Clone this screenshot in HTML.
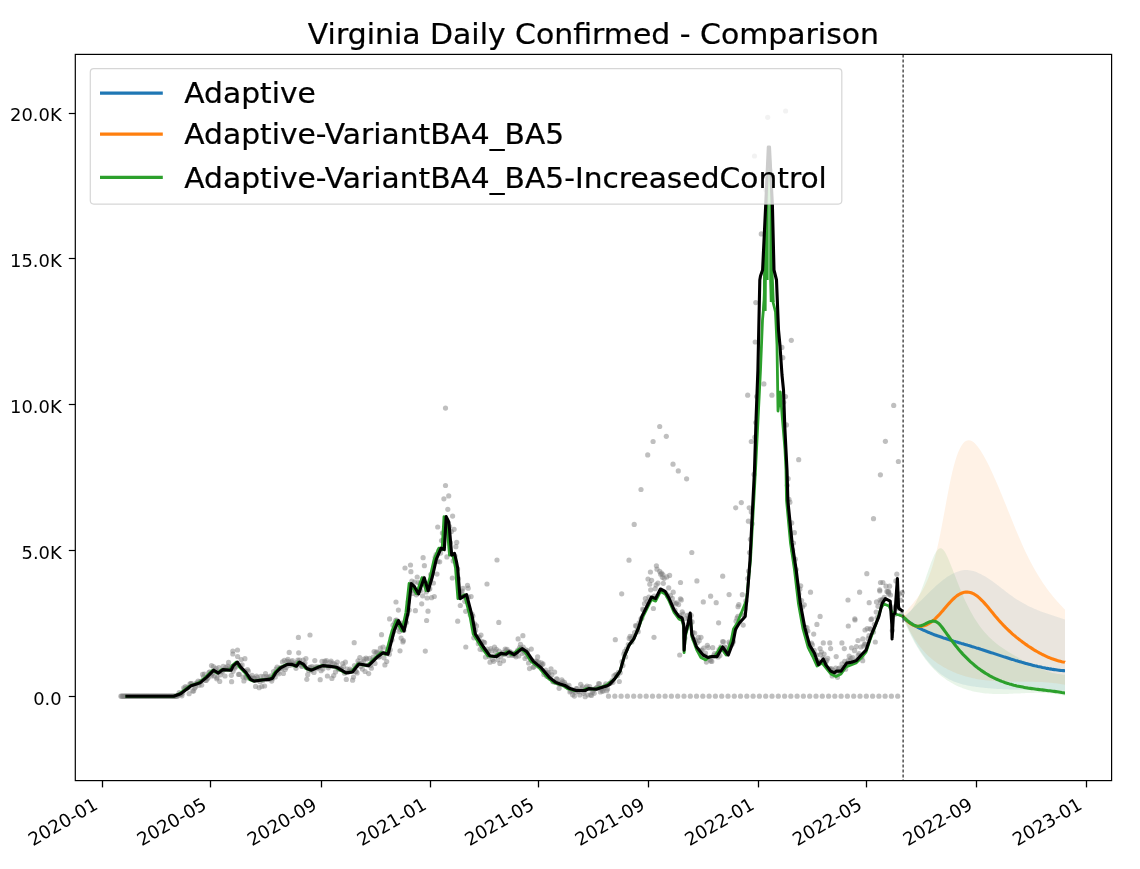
<!DOCTYPE html>
<html><head><meta charset="utf-8"><title>Virginia Daily Confirmed - Comparison</title>
<style>html,body{margin:0;padding:0;background:#fff;overflow:hidden}svg{display:block;will-change:transform}text{font-family:"DejaVu Sans","Liberation Sans",sans-serif;fill:#000;stroke:#000;stroke-width:0.25px}text.t{stroke-width:0}</style></head><body>
<svg width="1140" height="869" viewBox="0 0 1140 869">
<rect x="0" y="0" width="1140" height="869" fill="#fff"/>
<defs><clipPath id="ax"><rect x="75.3" y="54.4" width="1036.3" height="726.2"/></clipPath></defs>
<g clip-path="url(#ax)">
<path d="M902.8 617.2 L904.3 616 L905.8 614.8 L907.3 613.5 L908.8 612.1 L910.3 610.8 L911.8 609.4 L913.3 608 L914.8 606.5 L916.3 605.1 L917.8 603.6 L919.3 602.1 L920.8 600.7 L922.3 599.2 L923.8 597.7 L925.3 596.2 L926.8 594.7 L928.3 593.2 L929.8 591.8 L931.3 590.3 L932.8 588.9 L934.3 587.5 L935.8 586.1 L937.3 584.8 L938.8 583.5 L940.3 582.2 L941.8 581 L943.3 579.8 L944.8 578.7 L946.3 577.6 L947.8 576.6 L949.3 575.7 L950.8 574.8 L952.3 573.9 L953.8 573.2 L955.3 572.5 L956.8 571.9 L958.3 571.4 L959.8 570.9 L961.3 570.6 L962.8 570.3 L964.3 570.1 L965.8 570.1 L967.3 570.1 L968.8 570.2 L970.3 570.4 L971.8 570.7 L973.3 571.1 L974.8 571.6 L976.3 572.1 L977.8 572.7 L979.3 573.4 L980.8 574.1 L982.3 574.9 L983.8 575.7 L985.3 576.6 L986.8 577.5 L988.3 578.5 L989.8 579.5 L991.3 580.6 L992.8 581.6 L994.3 582.7 L995.8 583.8 L997.3 585 L998.8 586.1 L1000.3 587.3 L1001.8 588.4 L1003.3 589.6 L1004.8 590.8 L1006.3 591.9 L1007.8 593 L1009.3 594.2 L1010.8 595.3 L1012.3 596.3 L1013.8 597.4 L1015.3 598.4 L1016.8 599.4 L1018.3 600.3 L1019.8 601.3 L1021.3 602.1 L1022.8 603 L1024.3 603.8 L1025.8 604.6 L1027.3 605.4 L1028.8 606.2 L1030.3 606.9 L1031.8 607.6 L1033.3 608.3 L1034.8 608.9 L1036.3 609.6 L1037.8 610.2 L1039.3 610.8 L1040.8 611.4 L1042.3 611.9 L1043.8 612.5 L1045.3 613 L1046.8 613.6 L1048.3 614.1 L1049.8 614.6 L1051.3 615.1 L1052.8 615.6 L1054.3 616.1 L1055.8 616.6 L1057.3 617.1 L1058.8 617.6 L1060.3 618 L1061.8 618.5 L1063.3 619 L1064.8 619.5 L1065 619.5 L1065 691.2 L1064.8 691.1 L1063.3 691 L1061.8 690.9 L1060.3 690.8 L1058.8 690.7 L1057.3 690.6 L1055.8 690.5 L1054.3 690.4 L1052.8 690.4 L1051.3 690.3 L1049.8 690.2 L1048.3 690.2 L1046.8 690.1 L1045.3 690.1 L1043.8 690 L1042.3 690 L1040.8 689.9 L1039.3 689.9 L1037.8 689.9 L1036.3 689.8 L1034.8 689.8 L1033.3 689.8 L1031.8 689.8 L1030.3 689.7 L1028.8 689.7 L1027.3 689.7 L1025.8 689.7 L1024.3 689.7 L1022.8 689.6 L1021.3 689.6 L1019.8 689.6 L1018.3 689.6 L1016.8 689.5 L1015.3 689.5 L1013.8 689.5 L1012.3 689.4 L1010.8 689.4 L1009.3 689.4 L1007.8 689.3 L1006.3 689.3 L1004.8 689.2 L1003.3 689.2 L1001.8 689.1 L1000.3 689 L998.8 688.9 L997.3 688.9 L995.8 688.8 L994.3 688.7 L992.8 688.6 L991.3 688.5 L989.8 688.3 L988.3 688.2 L986.8 688.1 L985.3 687.9 L983.8 687.8 L982.3 687.6 L980.8 687.4 L979.3 687.3 L977.8 687.1 L976.3 686.9 L974.8 686.6 L973.3 686.4 L971.8 686.2 L970.3 685.9 L968.8 685.7 L967.3 685.4 L965.8 685.1 L964.3 684.7 L962.8 684.4 L961.3 684 L959.8 683.5 L958.3 683.1 L956.8 682.6 L955.3 682 L953.8 681.4 L952.3 680.8 L950.8 680.1 L949.3 679.4 L947.8 678.6 L946.3 677.7 L944.8 676.8 L943.3 675.8 L941.8 674.8 L940.3 673.7 L938.8 672.5 L937.3 671.2 L935.8 669.8 L934.3 668.4 L932.8 666.9 L931.3 665.3 L929.8 663.6 L928.3 661.8 L926.8 660 L925.3 658 L923.8 655.9 L922.3 653.8 L920.8 651.5 L919.3 649.1 L917.8 646.7 L916.3 644.1 L914.8 641.4 L913.3 638.6 L911.8 635.7 L910.3 632.6 L908.8 629.5 L907.3 626.2 L905.8 622.8 L904.3 619.3 L902.8 615.7 Z" fill="#1f77b4" fill-opacity="0.1"/>
<path d="M902.8 616 L904.3 613.8 L905.8 611.8 L907.3 609.9 L908.8 608.1 L910.3 606.4 L911.8 604.7 L913.3 602.9 L914.8 601.1 L916.3 599.3 L917.8 597.3 L919.3 595.2 L920.8 592.9 L922.3 590.5 L923.8 587.8 L925.3 584.8 L926.8 581.6 L928.3 578 L929.8 574 L931.3 569.7 L932.8 564.9 L934.3 559.7 L935.8 554 L937.3 547.8 L938.8 541 L940.3 533.7 L941.8 526 L943.3 518.1 L944.8 509.9 L946.3 501.8 L947.8 493.8 L949.3 486.1 L950.8 478.8 L952.3 472.1 L953.8 466 L955.3 460.7 L956.8 456 L958.3 452 L959.8 448.7 L961.3 445.9 L962.8 443.8 L964.3 442.1 L965.8 441 L967.3 440.4 L968.8 440.2 L970.3 440.4 L971.8 441 L973.3 442 L974.8 443.3 L976.3 444.9 L977.8 446.7 L979.3 448.8 L980.8 451 L982.3 453.5 L983.8 456.1 L985.3 458.8 L986.8 461.6 L988.3 464.6 L989.8 467.6 L991.3 470.8 L992.8 474 L994.3 477.4 L995.8 480.8 L997.3 484.3 L998.8 487.8 L1000.3 491.4 L1001.8 495 L1003.3 498.7 L1004.8 502.4 L1006.3 506.1 L1007.8 509.9 L1009.3 513.6 L1010.8 517.3 L1012.3 521 L1013.8 524.7 L1015.3 528.4 L1016.8 532 L1018.3 535.5 L1019.8 539 L1021.3 542.5 L1022.8 545.9 L1024.3 549.2 L1025.8 552.4 L1027.3 555.5 L1028.8 558.5 L1030.3 561.4 L1031.8 564.3 L1033.3 567 L1034.8 569.7 L1036.3 572.3 L1037.8 574.8 L1039.3 577.3 L1040.8 579.6 L1042.3 581.9 L1043.8 584.2 L1045.3 586.3 L1046.8 588.4 L1048.3 590.4 L1049.8 592.4 L1051.3 594.3 L1052.8 596.2 L1054.3 598 L1055.8 599.7 L1057.3 601.5 L1058.8 603.1 L1060.3 604.7 L1061.8 606.3 L1063.3 607.9 L1064.8 609.4 L1065 609.6 L1065 684.9 L1064.8 684.8 L1063.3 684.5 L1061.8 684.2 L1060.3 684 L1058.8 683.8 L1057.3 683.5 L1055.8 683.3 L1054.3 683.2 L1052.8 683 L1051.3 682.8 L1049.8 682.7 L1048.3 682.6 L1046.8 682.4 L1045.3 682.3 L1043.8 682.2 L1042.3 682.1 L1040.8 682.1 L1039.3 682 L1037.8 682 L1036.3 681.9 L1034.8 681.9 L1033.3 681.8 L1031.8 681.8 L1030.3 681.8 L1028.8 681.8 L1027.3 681.7 L1025.8 681.7 L1024.3 681.7 L1022.8 681.7 L1021.3 681.7 L1019.8 681.7 L1018.3 681.7 L1016.8 681.7 L1015.3 681.7 L1013.8 681.7 L1012.3 681.7 L1010.8 681.6 L1009.3 681.6 L1007.8 681.6 L1006.3 681.6 L1004.8 681.5 L1003.3 681.5 L1001.8 681.4 L1000.3 681.4 L998.8 681.3 L997.3 681.3 L995.8 681.2 L994.3 681.1 L992.8 681 L991.3 680.8 L989.8 680.7 L988.3 680.6 L986.8 680.4 L985.3 680.2 L983.8 680.1 L982.3 679.9 L980.8 679.6 L979.3 679.4 L977.8 679.2 L976.3 678.9 L974.8 678.6 L973.3 678.3 L971.8 677.9 L970.3 677.6 L968.8 677.2 L967.3 676.8 L965.8 676.4 L964.3 676 L962.8 675.5 L961.3 675 L959.8 674.5 L958.3 673.9 L956.8 673.4 L955.3 672.8 L953.8 672.2 L952.3 671.5 L950.8 670.8 L949.3 670.1 L947.8 669.4 L946.3 668.6 L944.8 667.8 L943.3 666.9 L941.8 666 L940.3 665.1 L938.8 664.2 L937.3 663.2 L935.8 662.1 L934.3 661 L932.8 659.8 L931.3 658.6 L929.8 657.3 L928.3 655.9 L926.8 654.4 L925.3 652.9 L923.8 651.3 L922.3 649.5 L920.8 647.7 L919.3 645.8 L917.8 643.8 L916.3 641.6 L914.8 639.4 L913.3 637 L911.8 634.5 L910.3 631.9 L908.8 629.2 L907.3 626.3 L905.8 623.2 L904.3 620.1 L902.8 616.7 Z" fill="#ff7f0e" fill-opacity="0.1"/>
<path d="M902.8 616.3 L904.3 616 L905.8 615.4 L907.3 614.4 L908.8 613 L910.3 611.4 L911.8 609.4 L913.3 607 L914.8 604.4 L916.3 601.6 L917.8 598.4 L919.3 595 L920.8 591.4 L922.3 587.5 L923.8 583.4 L925.3 579.2 L926.8 574.8 L928.3 570.4 L929.8 566.2 L931.3 562.1 L932.8 558.4 L934.3 555.1 L935.8 552.3 L937.3 550.2 L938.8 548.7 L940.3 548.2 L941.8 548.5 L943.3 549.8 L944.8 551.8 L946.3 554.5 L947.8 557.7 L949.3 561.2 L950.8 565 L952.3 568.8 L953.8 572.7 L955.3 576.6 L956.8 580.5 L958.3 584.3 L959.8 588.1 L961.3 591.8 L962.8 595.3 L964.3 598.7 L965.8 602 L967.3 605.1 L968.8 608.1 L970.3 610.9 L971.8 613.6 L973.3 616.2 L974.8 618.7 L976.3 621 L977.8 623.3 L979.3 625.4 L980.8 627.4 L982.3 629.4 L983.8 631.2 L985.3 632.9 L986.8 634.6 L988.3 636.2 L989.8 637.7 L991.3 639.1 L992.8 640.5 L994.3 641.8 L995.8 643.1 L997.3 644.3 L998.8 645.4 L1000.3 646.5 L1001.8 647.6 L1003.3 648.6 L1004.8 649.6 L1006.3 650.5 L1007.8 651.5 L1009.3 652.4 L1010.8 653.3 L1012.3 654.2 L1013.8 655.1 L1015.3 655.9 L1016.8 656.8 L1018.3 657.7 L1019.8 658.5 L1021.3 659.4 L1022.8 660.2 L1024.3 661 L1025.8 661.8 L1027.3 662.6 L1028.8 663.4 L1030.3 664.2 L1031.8 664.9 L1033.3 665.6 L1034.8 666.3 L1036.3 667 L1037.8 667.7 L1039.3 668.3 L1040.8 668.9 L1042.3 669.5 L1043.8 670.1 L1045.3 670.6 L1046.8 671.1 L1048.3 671.6 L1049.8 672.1 L1051.3 672.5 L1052.8 672.9 L1054.3 673.2 L1055.8 673.6 L1057.3 673.9 L1058.8 674.1 L1060.3 674.3 L1061.8 674.5 L1063.3 674.7 L1064.8 674.8 L1065 674.8 L1065 695.8 L1064.8 695.8 L1063.3 695.4 L1061.8 695.1 L1060.3 694.8 L1058.8 694.5 L1057.3 694.3 L1055.8 694 L1054.3 693.8 L1052.8 693.6 L1051.3 693.5 L1049.8 693.3 L1048.3 693.2 L1046.8 693.1 L1045.3 693 L1043.8 693 L1042.3 692.9 L1040.8 692.9 L1039.3 692.8 L1037.8 692.8 L1036.3 692.8 L1034.8 692.8 L1033.3 692.9 L1031.8 692.9 L1030.3 692.9 L1028.8 693 L1027.3 693 L1025.8 693.1 L1024.3 693.2 L1022.8 693.2 L1021.3 693.3 L1019.8 693.4 L1018.3 693.4 L1016.8 693.5 L1015.3 693.6 L1013.8 693.6 L1012.3 693.7 L1010.8 693.8 L1009.3 693.8 L1007.8 693.9 L1006.3 693.9 L1004.8 694 L1003.3 694 L1001.8 694 L1000.3 694 L998.8 694 L997.3 694 L995.8 694 L994.3 694 L992.8 693.9 L991.3 693.8 L989.8 693.7 L988.3 693.6 L986.8 693.5 L985.3 693.4 L983.8 693.2 L982.3 693 L980.8 692.8 L979.3 692.6 L977.8 692.3 L976.3 692 L974.8 691.7 L973.3 691.4 L971.8 691 L970.3 690.6 L968.8 690.2 L967.3 689.8 L965.8 689.3 L964.3 688.8 L962.8 688.2 L961.3 687.6 L959.8 687 L958.3 686.4 L956.8 685.7 L955.3 684.9 L953.8 684.2 L952.3 683.3 L950.8 682.5 L949.3 681.6 L947.8 680.7 L946.3 679.7 L944.8 678.6 L943.3 677.5 L941.8 676.4 L940.3 675.2 L938.8 673.9 L937.3 672.5 L935.8 671.1 L934.3 669.7 L932.8 668.1 L931.3 666.5 L929.8 664.8 L928.3 663 L926.8 661.1 L925.3 659.2 L923.8 657.1 L922.3 655 L920.8 652.8 L919.3 650.4 L917.8 648 L916.3 645.5 L914.8 642.9 L913.3 640.1 L911.8 637.3 L910.3 634.3 L908.8 631.2 L907.3 628 L905.8 624.7 L904.3 621.3 L902.8 617.7 Z" fill="#2ca02c" fill-opacity="0.1"/>
<g fill="#808080" fill-opacity="0.5">
<circle cx="120.9" cy="696.2" r="2.6"/><circle cx="121.8" cy="696.2" r="2.6"/><circle cx="122.7" cy="696.2" r="2.6"/><circle cx="123.6" cy="696.2" r="2.6"/><circle cx="124.5" cy="696.2" r="2.6"/><circle cx="125.4" cy="696.2" r="2.6"/><circle cx="126.2" cy="696.2" r="2.6"/><circle cx="127.1" cy="696.2" r="2.6"/><circle cx="128" cy="696.2" r="2.6"/><circle cx="128.9" cy="696.2" r="2.6"/><circle cx="129.8" cy="696.2" r="2.6"/><circle cx="130.7" cy="696.2" r="2.6"/><circle cx="131.6" cy="696.2" r="2.6"/><circle cx="132.5" cy="696.2" r="2.6"/><circle cx="133.4" cy="696.2" r="2.6"/><circle cx="134.3" cy="696.2" r="2.6"/><circle cx="135.2" cy="696.2" r="2.6"/><circle cx="136.1" cy="696.2" r="2.6"/><circle cx="137" cy="696.2" r="2.6"/><circle cx="137.9" cy="696.2" r="2.6"/><circle cx="138.8" cy="696.2" r="2.6"/><circle cx="139.7" cy="696.2" r="2.6"/><circle cx="140.6" cy="696.2" r="2.6"/><circle cx="141.5" cy="696.2" r="2.6"/><circle cx="142.4" cy="696.2" r="2.6"/><circle cx="143.3" cy="696.2" r="2.6"/><circle cx="144.2" cy="696.2" r="2.6"/><circle cx="145.1" cy="696.2" r="2.6"/><circle cx="146" cy="696.2" r="2.6"/><circle cx="146.9" cy="696.2" r="2.6"/><circle cx="147.8" cy="696.2" r="2.6"/><circle cx="148.7" cy="696.2" r="2.6"/><circle cx="149.6" cy="696.2" r="2.6"/><circle cx="150.5" cy="696.2" r="2.6"/><circle cx="151.4" cy="696.2" r="2.6"/><circle cx="152.3" cy="696.2" r="2.6"/><circle cx="153.2" cy="696.2" r="2.6"/><circle cx="154.1" cy="696.2" r="2.6"/><circle cx="155" cy="696.2" r="2.6"/><circle cx="155.9" cy="696.2" r="2.6"/><circle cx="156.8" cy="696.2" r="2.6"/><circle cx="157.7" cy="696.2" r="2.6"/><circle cx="158.6" cy="696.2" r="2.6"/><circle cx="159.5" cy="696.2" r="2.6"/><circle cx="160.4" cy="696.2" r="2.6"/><circle cx="161.3" cy="696.2" r="2.6"/><circle cx="162.2" cy="696.2" r="2.6"/><circle cx="163.1" cy="696.2" r="2.6"/><circle cx="164" cy="696.2" r="2.6"/><circle cx="164.9" cy="696.2" r="2.6"/><circle cx="165.8" cy="696.2" r="2.6"/><circle cx="166.7" cy="696.2" r="2.6"/><circle cx="167.6" cy="696.2" r="2.6"/><circle cx="168.5" cy="696.2" r="2.6"/><circle cx="169.4" cy="696.2" r="2.6"/><circle cx="170.3" cy="696.2" r="2.6"/><circle cx="171.2" cy="696.2" r="2.6"/><circle cx="172.1" cy="696.2" r="2.6"/><circle cx="172.9" cy="696.2" r="2.6"/><circle cx="173.8" cy="696.2" r="2.6"/><circle cx="174.7" cy="696.2" r="2.6"/><circle cx="175.6" cy="696.2" r="2.6"/><circle cx="176.5" cy="696.2" r="2.6"/><circle cx="177.4" cy="696.2" r="2.6"/><circle cx="178.3" cy="695.2" r="2.6"/><circle cx="179.2" cy="692.6" r="2.6"/><circle cx="180.1" cy="694.5" r="2.6"/><circle cx="181" cy="694.4" r="2.6"/><circle cx="181.9" cy="695.8" r="2.6"/><circle cx="182.8" cy="693.1" r="2.6"/><circle cx="183.7" cy="687.9" r="2.6"/><circle cx="184.6" cy="689.1" r="2.6"/><circle cx="185.5" cy="686.5" r="2.6"/><circle cx="186.4" cy="688.4" r="2.6"/><circle cx="187.3" cy="687.4" r="2.6"/><circle cx="188.2" cy="687.8" r="2.6"/><circle cx="189.1" cy="693.7" r="2.6"/><circle cx="190" cy="683.8" r="2.6"/><circle cx="190.9" cy="683.7" r="2.6"/><circle cx="191.8" cy="683.5" r="2.6"/><circle cx="192.7" cy="690.9" r="2.6"/><circle cx="193.6" cy="691.1" r="2.6"/><circle cx="194.5" cy="688.3" r="2.6"/><circle cx="195.4" cy="687" r="2.6"/><circle cx="196.3" cy="683" r="2.6"/><circle cx="197.2" cy="683.2" r="2.6"/><circle cx="198.1" cy="681.2" r="2.6"/><circle cx="199" cy="685.3" r="2.6"/><circle cx="199.9" cy="681.8" r="2.6"/><circle cx="200.8" cy="681.4" r="2.6"/><circle cx="201.7" cy="685.1" r="2.6"/><circle cx="202.6" cy="674.4" r="2.6"/><circle cx="203.5" cy="676.9" r="2.6"/><circle cx="204.4" cy="674" r="2.6"/><circle cx="205.3" cy="680.5" r="2.6"/><circle cx="206.2" cy="680.5" r="2.6"/><circle cx="207.1" cy="679" r="2.6"/><circle cx="208" cy="678.1" r="2.6"/><circle cx="208.9" cy="672.6" r="2.6"/><circle cx="209.8" cy="671.9" r="2.6"/><circle cx="210.7" cy="674.2" r="2.6"/><circle cx="211.6" cy="675.9" r="2.6"/><circle cx="212.5" cy="673.7" r="2.6"/><circle cx="213.4" cy="666.5" r="2.6"/><circle cx="214.3" cy="675.9" r="2.6"/><circle cx="215.2" cy="670" r="2.6"/><circle cx="216.1" cy="668.4" r="2.6"/><circle cx="217" cy="677.4" r="2.6"/><circle cx="217.9" cy="672.1" r="2.6"/><circle cx="218.8" cy="667.5" r="2.6"/><circle cx="219.7" cy="681.4" r="2.6"/><circle cx="220.5" cy="674.8" r="2.6"/><circle cx="221.4" cy="671.2" r="2.6"/><circle cx="222.3" cy="672" r="2.6"/><circle cx="223.2" cy="666.4" r="2.6"/><circle cx="224.1" cy="669.4" r="2.6"/><circle cx="225" cy="676" r="2.6"/><circle cx="225.9" cy="667.4" r="2.6"/><circle cx="226.8" cy="669.2" r="2.6"/><circle cx="227.7" cy="666" r="2.6"/><circle cx="228.6" cy="662.4" r="2.6"/><circle cx="229.5" cy="667.5" r="2.6"/><circle cx="230.4" cy="669.1" r="2.6"/><circle cx="231.3" cy="675.3" r="2.6"/><circle cx="232.2" cy="666.4" r="2.6"/><circle cx="233.1" cy="671.3" r="2.6"/><circle cx="234" cy="667.1" r="2.6"/><circle cx="234.9" cy="668.1" r="2.6"/><circle cx="235.8" cy="666.6" r="2.6"/><circle cx="236.7" cy="664.5" r="2.6"/><circle cx="237.6" cy="656.5" r="2.6"/><circle cx="238.5" cy="674.4" r="2.6"/><circle cx="239.4" cy="674.3" r="2.6"/><circle cx="240.3" cy="665.7" r="2.6"/><circle cx="241.2" cy="659.6" r="2.6"/><circle cx="242.1" cy="664.9" r="2.6"/><circle cx="243" cy="677" r="2.6"/><circle cx="243.9" cy="681" r="2.6"/><circle cx="244.8" cy="670.8" r="2.6"/><circle cx="245.7" cy="677.1" r="2.6"/><circle cx="246.6" cy="677.9" r="2.6"/><circle cx="247.5" cy="669.6" r="2.6"/><circle cx="248.4" cy="671" r="2.6"/><circle cx="249.3" cy="676.5" r="2.6"/><circle cx="250.2" cy="677.8" r="2.6"/><circle cx="251.1" cy="678.7" r="2.6"/><circle cx="252" cy="675.4" r="2.6"/><circle cx="252.9" cy="678.2" r="2.6"/><circle cx="253.8" cy="678.1" r="2.6"/><circle cx="254.7" cy="678.4" r="2.6"/><circle cx="255.6" cy="686.4" r="2.6"/><circle cx="256.5" cy="676" r="2.6"/><circle cx="257.4" cy="677.7" r="2.6"/><circle cx="258.3" cy="679.8" r="2.6"/><circle cx="259.2" cy="687.7" r="2.6"/><circle cx="260.1" cy="681.7" r="2.6"/><circle cx="261" cy="676.4" r="2.6"/><circle cx="261.9" cy="686.5" r="2.6"/><circle cx="262.8" cy="680.6" r="2.6"/><circle cx="263.7" cy="676.7" r="2.6"/><circle cx="264.6" cy="686" r="2.6"/><circle cx="265.5" cy="673.7" r="2.6"/><circle cx="266.4" cy="676.6" r="2.6"/><circle cx="267.3" cy="679.4" r="2.6"/><circle cx="268.1" cy="677.9" r="2.6"/><circle cx="269" cy="676.9" r="2.6"/><circle cx="269.9" cy="679.3" r="2.6"/><circle cx="270.8" cy="675.9" r="2.6"/><circle cx="271.7" cy="681.1" r="2.6"/><circle cx="272.6" cy="678.6" r="2.6"/><circle cx="273.5" cy="671.7" r="2.6"/><circle cx="274.4" cy="674.5" r="2.6"/><circle cx="275.3" cy="677" r="2.6"/><circle cx="276.2" cy="669.2" r="2.6"/><circle cx="277.1" cy="667.2" r="2.6"/><circle cx="278" cy="672.3" r="2.6"/><circle cx="278.9" cy="673.8" r="2.6"/><circle cx="279.8" cy="668.1" r="2.6"/><circle cx="280.7" cy="667.9" r="2.6"/><circle cx="281.6" cy="668.7" r="2.6"/><circle cx="282.5" cy="661.9" r="2.6"/><circle cx="283.4" cy="673.4" r="2.6"/><circle cx="284.3" cy="660.4" r="2.6"/><circle cx="285.2" cy="669.4" r="2.6"/><circle cx="286.1" cy="667.4" r="2.6"/><circle cx="287" cy="661.2" r="2.6"/><circle cx="287.9" cy="659.3" r="2.6"/><circle cx="288.8" cy="661.8" r="2.6"/><circle cx="289.7" cy="665.4" r="2.6"/><circle cx="290.6" cy="663.8" r="2.6"/><circle cx="291.5" cy="661.8" r="2.6"/><circle cx="292.4" cy="660.7" r="2.6"/><circle cx="293.3" cy="665" r="2.6"/><circle cx="294.2" cy="664" r="2.6"/><circle cx="295.1" cy="664.2" r="2.6"/><circle cx="296" cy="668.3" r="2.6"/><circle cx="296.9" cy="662.5" r="2.6"/><circle cx="297.8" cy="660.2" r="2.6"/><circle cx="298.7" cy="652.8" r="2.6"/><circle cx="299.6" cy="660" r="2.6"/><circle cx="300.5" cy="664.6" r="2.6"/><circle cx="301.4" cy="666.2" r="2.6"/><circle cx="302.3" cy="666.3" r="2.6"/><circle cx="303.2" cy="660" r="2.6"/><circle cx="304.1" cy="664.6" r="2.6"/><circle cx="305" cy="663.1" r="2.6"/><circle cx="305.9" cy="658.5" r="2.6"/><circle cx="306.8" cy="679.3" r="2.6"/><circle cx="307.7" cy="674.7" r="2.6"/><circle cx="308.6" cy="670.2" r="2.6"/><circle cx="309.5" cy="667.7" r="2.6"/><circle cx="310.4" cy="667.1" r="2.6"/><circle cx="311.3" cy="670.8" r="2.6"/><circle cx="312.2" cy="666.7" r="2.6"/><circle cx="313.1" cy="668.4" r="2.6"/><circle cx="314" cy="672.5" r="2.6"/><circle cx="314.8" cy="660.6" r="2.6"/><circle cx="315.7" cy="666.9" r="2.6"/><circle cx="316.6" cy="668.7" r="2.6"/><circle cx="317.5" cy="666.9" r="2.6"/><circle cx="318.4" cy="667.6" r="2.6"/><circle cx="319.3" cy="667.1" r="2.6"/><circle cx="320.2" cy="679.7" r="2.6"/><circle cx="321.1" cy="670.7" r="2.6"/><circle cx="322" cy="661.4" r="2.6"/><circle cx="322.9" cy="669" r="2.6"/><circle cx="323.8" cy="664.8" r="2.6"/><circle cx="324.7" cy="661" r="2.6"/><circle cx="325.6" cy="662.1" r="2.6"/><circle cx="326.5" cy="660.6" r="2.6"/><circle cx="327.4" cy="676" r="2.6"/><circle cx="328.3" cy="667.8" r="2.6"/><circle cx="329.2" cy="666" r="2.6"/><circle cx="330.1" cy="662.5" r="2.6"/><circle cx="331" cy="661.1" r="2.6"/><circle cx="331.9" cy="678.4" r="2.6"/><circle cx="332.8" cy="663.2" r="2.6"/><circle cx="333.7" cy="675.6" r="2.6"/><circle cx="334.6" cy="664" r="2.6"/><circle cx="335.5" cy="671.9" r="2.6"/><circle cx="336.4" cy="665.3" r="2.6"/><circle cx="337.3" cy="662" r="2.6"/><circle cx="338.2" cy="668.9" r="2.6"/><circle cx="339.1" cy="669.1" r="2.6"/><circle cx="340" cy="668.1" r="2.6"/><circle cx="340.9" cy="669.2" r="2.6"/><circle cx="341.8" cy="669.2" r="2.6"/><circle cx="342.7" cy="663.5" r="2.6"/><circle cx="343.6" cy="666.6" r="2.6"/><circle cx="344.5" cy="673.2" r="2.6"/><circle cx="345.4" cy="662.2" r="2.6"/><circle cx="346.3" cy="679.4" r="2.6"/><circle cx="347.2" cy="669" r="2.6"/><circle cx="348.1" cy="672.3" r="2.6"/><circle cx="349" cy="671" r="2.6"/><circle cx="349.9" cy="669" r="2.6"/><circle cx="350.8" cy="671.3" r="2.6"/><circle cx="351.7" cy="670.4" r="2.6"/><circle cx="352.6" cy="680.2" r="2.6"/><circle cx="353.5" cy="677.1" r="2.6"/><circle cx="354.4" cy="665.5" r="2.6"/><circle cx="355.3" cy="671.6" r="2.6"/><circle cx="356.2" cy="671.4" r="2.6"/><circle cx="357.1" cy="672.9" r="2.6"/><circle cx="358" cy="660.9" r="2.6"/><circle cx="358.9" cy="663.4" r="2.6"/><circle cx="359.8" cy="657.5" r="2.6"/><circle cx="360.7" cy="666.6" r="2.6"/><circle cx="361.6" cy="663.1" r="2.6"/><circle cx="362.4" cy="669.1" r="2.6"/><circle cx="363.3" cy="661.3" r="2.6"/><circle cx="364.2" cy="659" r="2.6"/><circle cx="365.1" cy="671.5" r="2.6"/><circle cx="366" cy="658.2" r="2.6"/><circle cx="366.9" cy="659.1" r="2.6"/><circle cx="367.8" cy="665" r="2.6"/><circle cx="368.7" cy="673.6" r="2.6"/><circle cx="369.6" cy="658.3" r="2.6"/><circle cx="370.5" cy="665.4" r="2.6"/><circle cx="371.4" cy="668.2" r="2.6"/><circle cx="372.3" cy="660.1" r="2.6"/><circle cx="373.2" cy="657" r="2.6"/><circle cx="374.1" cy="651.6" r="2.6"/><circle cx="375" cy="663.4" r="2.6"/><circle cx="375.9" cy="652.9" r="2.6"/><circle cx="376.8" cy="651.8" r="2.6"/><circle cx="377.7" cy="652.9" r="2.6"/><circle cx="378.6" cy="657" r="2.6"/><circle cx="379.5" cy="656.7" r="2.6"/><circle cx="380.4" cy="648" r="2.6"/><circle cx="381.3" cy="652.7" r="2.6"/><circle cx="382.2" cy="652.8" r="2.6"/><circle cx="383.1" cy="647.2" r="2.6"/><circle cx="384" cy="657.8" r="2.6"/><circle cx="384.9" cy="664.9" r="2.6"/><circle cx="385.8" cy="653" r="2.6"/><circle cx="386.7" cy="661.5" r="2.6"/><circle cx="387.6" cy="649.2" r="2.6"/><circle cx="388.5" cy="650.8" r="2.6"/><circle cx="389.4" cy="654.2" r="2.6"/><circle cx="390.3" cy="649.8" r="2.6"/><circle cx="391.2" cy="637.6" r="2.6"/><circle cx="392.1" cy="635" r="2.6"/><circle cx="393" cy="625.2" r="2.6"/><circle cx="393.9" cy="631.2" r="2.6"/><circle cx="394.8" cy="622.8" r="2.6"/><circle cx="395.7" cy="620.4" r="2.6"/><circle cx="396.6" cy="620.2" r="2.6"/><circle cx="397.5" cy="627.2" r="2.6"/><circle cx="398.4" cy="610.1" r="2.6"/><circle cx="399.3" cy="631.6" r="2.6"/><circle cx="400.2" cy="629.4" r="2.6"/><circle cx="401.1" cy="638.1" r="2.6"/><circle cx="402" cy="623" r="2.6"/><circle cx="402.9" cy="641.9" r="2.6"/><circle cx="403.8" cy="630.5" r="2.6"/><circle cx="404.7" cy="625.6" r="2.6"/><circle cx="405.6" cy="621.6" r="2.6"/><circle cx="406.5" cy="622.6" r="2.6"/><circle cx="407.4" cy="614.3" r="2.6"/><circle cx="408.3" cy="601.7" r="2.6"/><circle cx="409.2" cy="610.1" r="2.6"/><circle cx="410" cy="590.6" r="2.6"/><circle cx="410.9" cy="571.7" r="2.6"/><circle cx="411.8" cy="581.2" r="2.6"/><circle cx="412.7" cy="593.4" r="2.6"/><circle cx="413.6" cy="590.5" r="2.6"/><circle cx="414.5" cy="582.1" r="2.6"/><circle cx="415.4" cy="610.7" r="2.6"/><circle cx="416.3" cy="594.8" r="2.6"/><circle cx="417.2" cy="577" r="2.6"/><circle cx="418.1" cy="582.6" r="2.6"/><circle cx="419" cy="590.5" r="2.6"/><circle cx="419.9" cy="583.5" r="2.6"/><circle cx="420.8" cy="590.5" r="2.6"/><circle cx="421.7" cy="603.8" r="2.6"/><circle cx="422.6" cy="595.8" r="2.6"/><circle cx="423.5" cy="578.4" r="2.6"/><circle cx="424.4" cy="565.7" r="2.6"/><circle cx="425.3" cy="584" r="2.6"/><circle cx="426.2" cy="592" r="2.6"/><circle cx="427.1" cy="598" r="2.6"/><circle cx="428" cy="611.2" r="2.6"/><circle cx="428.9" cy="589.3" r="2.6"/><circle cx="429.8" cy="588.7" r="2.6"/><circle cx="430.7" cy="574.6" r="2.6"/><circle cx="431.6" cy="597.7" r="2.6"/><circle cx="432.5" cy="573.2" r="2.6"/><circle cx="433.4" cy="583" r="2.6"/><circle cx="434.3" cy="596.5" r="2.6"/><circle cx="435.2" cy="557.3" r="2.6"/><circle cx="436.1" cy="554.7" r="2.6"/><circle cx="437" cy="574.1" r="2.6"/><circle cx="437.9" cy="561.5" r="2.6"/><circle cx="438.8" cy="550.6" r="2.6"/><circle cx="439.7" cy="561.8" r="2.6"/><circle cx="440.6" cy="553.1" r="2.6"/><circle cx="441.5" cy="540.6" r="2.6"/><circle cx="442.4" cy="533" r="2.6"/><circle cx="443.3" cy="540" r="2.6"/><circle cx="444.2" cy="533" r="2.6"/><circle cx="445.1" cy="529" r="2.6"/><circle cx="446" cy="522.3" r="2.6"/><circle cx="446.9" cy="556.9" r="2.6"/><circle cx="447.8" cy="509.3" r="2.6"/><circle cx="448.7" cy="495.9" r="2.6"/><circle cx="449.6" cy="526.6" r="2.6"/><circle cx="450.5" cy="542.5" r="2.6"/><circle cx="451.4" cy="531.5" r="2.6"/><circle cx="452.3" cy="578" r="2.6"/><circle cx="453.2" cy="560.9" r="2.6"/><circle cx="454.1" cy="529.3" r="2.6"/><circle cx="455" cy="556" r="2.6"/><circle cx="455.9" cy="546.7" r="2.6"/><circle cx="456.7" cy="542.4" r="2.6"/><circle cx="457.6" cy="568.9" r="2.6"/><circle cx="458.5" cy="578.5" r="2.6"/><circle cx="459.4" cy="591.3" r="2.6"/><circle cx="460.3" cy="605.5" r="2.6"/><circle cx="461.2" cy="592.7" r="2.6"/><circle cx="462.1" cy="591.1" r="2.6"/><circle cx="463" cy="588.3" r="2.6"/><circle cx="463.9" cy="596.5" r="2.6"/><circle cx="464.8" cy="601.3" r="2.6"/><circle cx="465.7" cy="611.3" r="2.6"/><circle cx="466.6" cy="597.6" r="2.6"/><circle cx="467.5" cy="585.4" r="2.6"/><circle cx="468.4" cy="597.1" r="2.6"/><circle cx="469.3" cy="609.7" r="2.6"/><circle cx="470.2" cy="614.8" r="2.6"/><circle cx="471.1" cy="596.6" r="2.6"/><circle cx="472" cy="614.2" r="2.6"/><circle cx="472.9" cy="616.1" r="2.6"/><circle cx="473.8" cy="637.8" r="2.6"/><circle cx="474.7" cy="623.8" r="2.6"/><circle cx="475.6" cy="630.3" r="2.6"/><circle cx="476.5" cy="625.9" r="2.6"/><circle cx="477.4" cy="637.1" r="2.6"/><circle cx="478.3" cy="643.7" r="2.6"/><circle cx="479.2" cy="637.2" r="2.6"/><circle cx="480.1" cy="649.3" r="2.6"/><circle cx="481" cy="635.1" r="2.6"/><circle cx="481.9" cy="641.6" r="2.6"/><circle cx="482.8" cy="649.7" r="2.6"/><circle cx="483.7" cy="642.1" r="2.6"/><circle cx="484.6" cy="642.7" r="2.6"/><circle cx="485.5" cy="657.1" r="2.6"/><circle cx="486.4" cy="651.7" r="2.6"/><circle cx="487.3" cy="649" r="2.6"/><circle cx="488.2" cy="651.7" r="2.6"/><circle cx="489.1" cy="656.7" r="2.6"/><circle cx="490" cy="662.2" r="2.6"/><circle cx="490.9" cy="648.7" r="2.6"/><circle cx="491.8" cy="650.9" r="2.6"/><circle cx="492.7" cy="659.6" r="2.6"/><circle cx="493.6" cy="661.3" r="2.6"/><circle cx="494.5" cy="647.2" r="2.6"/><circle cx="495.4" cy="651.6" r="2.6"/><circle cx="496.3" cy="649.3" r="2.6"/><circle cx="497.2" cy="655.3" r="2.6"/><circle cx="498.1" cy="659.8" r="2.6"/><circle cx="499" cy="651.1" r="2.6"/><circle cx="499.9" cy="663.4" r="2.6"/><circle cx="500.8" cy="656.6" r="2.6"/><circle cx="501.7" cy="653.8" r="2.6"/><circle cx="502.6" cy="652.7" r="2.6"/><circle cx="503.5" cy="660.8" r="2.6"/><circle cx="504.3" cy="654.5" r="2.6"/><circle cx="505.2" cy="649.2" r="2.6"/><circle cx="506.1" cy="650.5" r="2.6"/><circle cx="507" cy="649.3" r="2.6"/><circle cx="507.9" cy="651.7" r="2.6"/><circle cx="508.8" cy="655.5" r="2.6"/><circle cx="509.7" cy="651.6" r="2.6"/><circle cx="510.6" cy="652.4" r="2.6"/><circle cx="511.5" cy="654.8" r="2.6"/><circle cx="512.4" cy="655.2" r="2.6"/><circle cx="513.3" cy="653.4" r="2.6"/><circle cx="514.2" cy="655.2" r="2.6"/><circle cx="515.1" cy="654.9" r="2.6"/><circle cx="516" cy="656.8" r="2.6"/><circle cx="516.9" cy="651.8" r="2.6"/><circle cx="517.8" cy="650.1" r="2.6"/><circle cx="518.7" cy="656" r="2.6"/><circle cx="519.6" cy="647.5" r="2.6"/><circle cx="520.5" cy="644.4" r="2.6"/><circle cx="521.4" cy="648.7" r="2.6"/><circle cx="522.3" cy="653.5" r="2.6"/><circle cx="523.2" cy="647" r="2.6"/><circle cx="524.1" cy="652.2" r="2.6"/><circle cx="525" cy="658.5" r="2.6"/><circle cx="525.9" cy="649.9" r="2.6"/><circle cx="526.8" cy="656.5" r="2.6"/><circle cx="527.7" cy="650.8" r="2.6"/><circle cx="528.6" cy="663" r="2.6"/><circle cx="529.5" cy="668.6" r="2.6"/><circle cx="530.4" cy="659.6" r="2.6"/><circle cx="531.3" cy="649.1" r="2.6"/><circle cx="532.2" cy="660.7" r="2.6"/><circle cx="533.1" cy="667.3" r="2.6"/><circle cx="534" cy="666.8" r="2.6"/><circle cx="534.9" cy="662.9" r="2.6"/><circle cx="535.8" cy="661.1" r="2.6"/><circle cx="536.7" cy="661.3" r="2.6"/><circle cx="537.6" cy="656.9" r="2.6"/><circle cx="538.5" cy="661.8" r="2.6"/><circle cx="539.4" cy="666.3" r="2.6"/><circle cx="540.3" cy="665.5" r="2.6"/><circle cx="541.2" cy="662.8" r="2.6"/><circle cx="542.1" cy="664.5" r="2.6"/><circle cx="543" cy="663.9" r="2.6"/><circle cx="543.9" cy="674.4" r="2.6"/><circle cx="544.8" cy="672.1" r="2.6"/><circle cx="545.7" cy="670" r="2.6"/><circle cx="546.6" cy="676.2" r="2.6"/><circle cx="547.5" cy="672.6" r="2.6"/><circle cx="548.4" cy="673.9" r="2.6"/><circle cx="549.3" cy="672.7" r="2.6"/><circle cx="550.2" cy="678.2" r="2.6"/><circle cx="551" cy="668.8" r="2.6"/><circle cx="551.9" cy="674.8" r="2.6"/><circle cx="552.8" cy="681.6" r="2.6"/><circle cx="553.7" cy="681.7" r="2.6"/><circle cx="554.6" cy="672" r="2.6"/><circle cx="555.5" cy="682.5" r="2.6"/><circle cx="556.4" cy="678.9" r="2.6"/><circle cx="557.3" cy="679.2" r="2.6"/><circle cx="558.2" cy="683.3" r="2.6"/><circle cx="559.1" cy="688.3" r="2.6"/><circle cx="560" cy="684.3" r="2.6"/><circle cx="560.9" cy="683" r="2.6"/><circle cx="561.8" cy="679.9" r="2.6"/><circle cx="562.7" cy="681.6" r="2.6"/><circle cx="563.6" cy="684.7" r="2.6"/><circle cx="564.5" cy="682.4" r="2.6"/><circle cx="565.4" cy="684.4" r="2.6"/><circle cx="566.3" cy="686.4" r="2.6"/><circle cx="567.2" cy="686.7" r="2.6"/><circle cx="568.1" cy="687.8" r="2.6"/><circle cx="569" cy="685.4" r="2.6"/><circle cx="569.9" cy="691.9" r="2.6"/><circle cx="570.8" cy="690.9" r="2.6"/><circle cx="571.7" cy="689.4" r="2.6"/><circle cx="572.6" cy="694.7" r="2.6"/><circle cx="573.5" cy="691.1" r="2.6"/><circle cx="574.4" cy="696.1" r="2.6"/><circle cx="575.3" cy="692.2" r="2.6"/><circle cx="576.2" cy="688.6" r="2.6"/><circle cx="577.1" cy="688.7" r="2.6"/><circle cx="578" cy="690.9" r="2.6"/><circle cx="578.9" cy="691.7" r="2.6"/><circle cx="579.8" cy="695" r="2.6"/><circle cx="580.7" cy="684.3" r="2.6"/><circle cx="581.6" cy="688.6" r="2.6"/><circle cx="582.5" cy="686.9" r="2.6"/><circle cx="583.4" cy="693.3" r="2.6"/><circle cx="584.3" cy="691.3" r="2.6"/><circle cx="585.2" cy="696.7" r="2.6"/><circle cx="586.1" cy="687.5" r="2.6"/><circle cx="587" cy="686.1" r="2.6"/><circle cx="587.9" cy="695" r="2.6"/><circle cx="588.8" cy="688.7" r="2.6"/><circle cx="589.7" cy="686.6" r="2.6"/><circle cx="590.6" cy="694.8" r="2.6"/><circle cx="591.5" cy="695.4" r="2.6"/><circle cx="592.4" cy="692.4" r="2.6"/><circle cx="593.3" cy="690.6" r="2.6"/><circle cx="594.2" cy="693.3" r="2.6"/><circle cx="595.1" cy="688.8" r="2.6"/><circle cx="596" cy="688.3" r="2.6"/><circle cx="596.9" cy="687.3" r="2.6"/><circle cx="597.8" cy="687.1" r="2.6"/><circle cx="598.6" cy="683.5" r="2.6"/><circle cx="599.5" cy="683.8" r="2.6"/><circle cx="600.4" cy="691.9" r="2.6"/><circle cx="601.3" cy="689.1" r="2.6"/><circle cx="602.2" cy="690.9" r="2.6"/><circle cx="603.1" cy="691.1" r="2.6"/><circle cx="604" cy="687.9" r="2.6"/><circle cx="604.9" cy="685.8" r="2.6"/><circle cx="605.8" cy="683.9" r="2.6"/><circle cx="606.7" cy="690.7" r="2.6"/><circle cx="607.6" cy="689" r="2.6"/><circle cx="608.5" cy="696.2" r="2.6"/><circle cx="609.4" cy="683.6" r="2.6"/><circle cx="610.3" cy="683.2" r="2.6"/><circle cx="611.2" cy="682.6" r="2.6"/><circle cx="612.1" cy="680.7" r="2.6"/><circle cx="613" cy="682.3" r="2.6"/><circle cx="613.9" cy="675.9" r="2.6"/><circle cx="614.8" cy="696.2" r="2.6"/><circle cx="615.7" cy="674.6" r="2.6"/><circle cx="616.6" cy="674.9" r="2.6"/><circle cx="617.5" cy="675.8" r="2.6"/><circle cx="618.4" cy="672.4" r="2.6"/><circle cx="619.3" cy="681.5" r="2.6"/><circle cx="620.2" cy="672.8" r="2.6"/><circle cx="621.1" cy="696.2" r="2.6"/><circle cx="622" cy="661.7" r="2.6"/><circle cx="622.9" cy="665.4" r="2.6"/><circle cx="623.8" cy="654" r="2.6"/><circle cx="624.7" cy="651.4" r="2.6"/><circle cx="625.6" cy="656.9" r="2.6"/><circle cx="626.5" cy="648.9" r="2.6"/><circle cx="627.4" cy="696.2" r="2.6"/><circle cx="628.3" cy="644.7" r="2.6"/><circle cx="629.2" cy="638.4" r="2.6"/><circle cx="630.1" cy="636.3" r="2.6"/><circle cx="631" cy="638.6" r="2.6"/><circle cx="631.9" cy="641.9" r="2.6"/><circle cx="632.8" cy="636.6" r="2.6"/><circle cx="633.7" cy="696.2" r="2.6"/><circle cx="634.6" cy="632.7" r="2.6"/><circle cx="635.5" cy="625.7" r="2.6"/><circle cx="636.4" cy="626" r="2.6"/><circle cx="637.3" cy="630" r="2.6"/><circle cx="638.2" cy="631.7" r="2.6"/><circle cx="639.1" cy="622.8" r="2.6"/><circle cx="640" cy="696.2" r="2.6"/><circle cx="640.9" cy="618.8" r="2.6"/><circle cx="641.8" cy="618.2" r="2.6"/><circle cx="642.7" cy="609.2" r="2.6"/><circle cx="643.6" cy="609.9" r="2.6"/><circle cx="644.5" cy="603.7" r="2.6"/><circle cx="645.4" cy="598.7" r="2.6"/><circle cx="646.2" cy="696.2" r="2.6"/><circle cx="647.1" cy="601.6" r="2.6"/><circle cx="648" cy="579.1" r="2.6"/><circle cx="648.9" cy="597.1" r="2.6"/><circle cx="649.8" cy="584.2" r="2.6"/><circle cx="650.7" cy="589.8" r="2.6"/><circle cx="651.6" cy="580.3" r="2.6"/><circle cx="652.5" cy="696.2" r="2.6"/><circle cx="653.4" cy="608.5" r="2.6"/><circle cx="654.3" cy="596.1" r="2.6"/><circle cx="655.2" cy="588.7" r="2.6"/><circle cx="656.1" cy="584.9" r="2.6"/><circle cx="657" cy="569.2" r="2.6"/><circle cx="657.9" cy="583.2" r="2.6"/><circle cx="658.8" cy="696.2" r="2.6"/><circle cx="659.7" cy="571.4" r="2.6"/><circle cx="660.6" cy="574.2" r="2.6"/><circle cx="661.5" cy="573.2" r="2.6"/><circle cx="662.4" cy="577.3" r="2.6"/><circle cx="663.3" cy="583.3" r="2.6"/><circle cx="664.2" cy="578.3" r="2.6"/><circle cx="665.1" cy="696.2" r="2.6"/><circle cx="666" cy="593.3" r="2.6"/><circle cx="666.9" cy="576.9" r="2.6"/><circle cx="667.8" cy="596.1" r="2.6"/><circle cx="668.7" cy="587.9" r="2.6"/><circle cx="669.6" cy="575.4" r="2.6"/><circle cx="670.5" cy="595.7" r="2.6"/><circle cx="671.4" cy="696.2" r="2.6"/><circle cx="672.3" cy="598.4" r="2.6"/><circle cx="673.2" cy="592.2" r="2.6"/><circle cx="674.1" cy="602.8" r="2.6"/><circle cx="675" cy="610.1" r="2.6"/><circle cx="675.9" cy="603.8" r="2.6"/><circle cx="676.8" cy="602.8" r="2.6"/><circle cx="677.7" cy="696.2" r="2.6"/><circle cx="678.6" cy="604.6" r="2.6"/><circle cx="679.5" cy="615.7" r="2.6"/><circle cx="680.4" cy="598.8" r="2.6"/><circle cx="681.3" cy="599.9" r="2.6"/><circle cx="682.2" cy="611.9" r="2.6"/><circle cx="683.1" cy="614.2" r="2.6"/><circle cx="684" cy="696.2" r="2.6"/><circle cx="684.9" cy="637.9" r="2.6"/><circle cx="685.8" cy="618.5" r="2.6"/><circle cx="686.7" cy="627.9" r="2.6"/><circle cx="687.6" cy="615.3" r="2.6"/><circle cx="688.5" cy="618.5" r="2.6"/><circle cx="689.4" cy="615.5" r="2.6"/><circle cx="690.3" cy="696.2" r="2.6"/><circle cx="691.2" cy="615.3" r="2.6"/><circle cx="692.1" cy="621.9" r="2.6"/><circle cx="692.9" cy="632.5" r="2.6"/><circle cx="693.8" cy="639" r="2.6"/><circle cx="694.7" cy="633.1" r="2.6"/><circle cx="695.6" cy="640.6" r="2.6"/><circle cx="696.5" cy="696.2" r="2.6"/><circle cx="697.4" cy="642.5" r="2.6"/><circle cx="698.3" cy="637.4" r="2.6"/><circle cx="699.2" cy="640.7" r="2.6"/><circle cx="700.1" cy="650.4" r="2.6"/><circle cx="701" cy="637.3" r="2.6"/><circle cx="701.9" cy="650.1" r="2.6"/><circle cx="702.8" cy="696.2" r="2.6"/><circle cx="703.7" cy="648.1" r="2.6"/><circle cx="704.6" cy="655.7" r="2.6"/><circle cx="705.5" cy="653.2" r="2.6"/><circle cx="706.4" cy="662.1" r="2.6"/><circle cx="707.3" cy="645.3" r="2.6"/><circle cx="708.2" cy="647.6" r="2.6"/><circle cx="709.1" cy="696.2" r="2.6"/><circle cx="710" cy="659.8" r="2.6"/><circle cx="710.9" cy="661" r="2.6"/><circle cx="711.8" cy="661.4" r="2.6"/><circle cx="712.7" cy="647.7" r="2.6"/><circle cx="713.6" cy="655.7" r="2.6"/><circle cx="714.5" cy="653.7" r="2.6"/><circle cx="715.4" cy="696.2" r="2.6"/><circle cx="716.3" cy="655" r="2.6"/><circle cx="717.2" cy="653.7" r="2.6"/><circle cx="718.1" cy="656.9" r="2.6"/><circle cx="719" cy="649.7" r="2.6"/><circle cx="719.9" cy="655.6" r="2.6"/><circle cx="720.8" cy="646.9" r="2.6"/><circle cx="721.7" cy="696.2" r="2.6"/><circle cx="722.6" cy="641.6" r="2.6"/><circle cx="723.5" cy="641.8" r="2.6"/><circle cx="724.4" cy="646.9" r="2.6"/><circle cx="725.3" cy="651.7" r="2.6"/><circle cx="726.2" cy="647.6" r="2.6"/><circle cx="727.1" cy="652.3" r="2.6"/><circle cx="728" cy="696.2" r="2.6"/><circle cx="728.9" cy="642.1" r="2.6"/><circle cx="729.8" cy="643.5" r="2.6"/><circle cx="730.7" cy="645.4" r="2.6"/><circle cx="731.6" cy="644.8" r="2.6"/><circle cx="732.5" cy="643.5" r="2.6"/><circle cx="733.4" cy="641.6" r="2.6"/><circle cx="734.3" cy="696.2" r="2.6"/><circle cx="735.2" cy="628.5" r="2.6"/><circle cx="736.1" cy="621.2" r="2.6"/><circle cx="737" cy="618.2" r="2.6"/><circle cx="737.9" cy="616.3" r="2.6"/><circle cx="738.8" cy="604.7" r="2.6"/><circle cx="739.7" cy="621.5" r="2.6"/><circle cx="740.5" cy="696.2" r="2.6"/><circle cx="741.4" cy="614.6" r="2.6"/><circle cx="742.3" cy="594.7" r="2.6"/><circle cx="743.2" cy="625.1" r="2.6"/><circle cx="744.1" cy="614.9" r="2.6"/><circle cx="745" cy="609" r="2.6"/><circle cx="745.9" cy="600.9" r="2.6"/><circle cx="746.8" cy="696.2" r="2.6"/><circle cx="747.7" cy="578.6" r="2.6"/><circle cx="748.6" cy="571" r="2.6"/><circle cx="749.5" cy="552.5" r="2.6"/><circle cx="750.4" cy="539.3" r="2.6"/><circle cx="751.3" cy="511.9" r="2.6"/><circle cx="752.2" cy="523.7" r="2.6"/><circle cx="753.1" cy="696.2" r="2.6"/><circle cx="754" cy="474.4" r="2.6"/><circle cx="754.9" cy="437.2" r="2.6"/><circle cx="755.8" cy="422.6" r="2.6"/><circle cx="756.7" cy="396.5" r="2.6"/><circle cx="759.4" cy="696.2" r="2.6"/><circle cx="765.7" cy="696.2" r="2.6"/><circle cx="772" cy="696.2" r="2.6"/><circle cx="778.3" cy="696.2" r="2.6"/><circle cx="781.9" cy="347.4" r="2.6"/><circle cx="782.8" cy="357.7" r="2.6"/><circle cx="783.7" cy="402.3" r="2.6"/><circle cx="784.6" cy="696.2" r="2.6"/><circle cx="785.5" cy="396.6" r="2.6"/><circle cx="786.4" cy="424.9" r="2.6"/><circle cx="787.3" cy="485.3" r="2.6"/><circle cx="788.1" cy="478.7" r="2.6"/><circle cx="789" cy="499.4" r="2.6"/><circle cx="789.9" cy="502.2" r="2.6"/><circle cx="790.8" cy="696.2" r="2.6"/><circle cx="791.7" cy="522.9" r="2.6"/><circle cx="792.6" cy="550.2" r="2.6"/><circle cx="793.5" cy="543.1" r="2.6"/><circle cx="794.4" cy="532.7" r="2.6"/><circle cx="795.3" cy="559.2" r="2.6"/><circle cx="796.2" cy="569.6" r="2.6"/><circle cx="797.1" cy="696.2" r="2.6"/><circle cx="798" cy="587.5" r="2.6"/><circle cx="798.9" cy="593.8" r="2.6"/><circle cx="799.8" cy="589.2" r="2.6"/><circle cx="800.7" cy="585.8" r="2.6"/><circle cx="801.6" cy="600.5" r="2.6"/><circle cx="802.5" cy="607.1" r="2.6"/><circle cx="803.4" cy="696.2" r="2.6"/><circle cx="804.3" cy="604.8" r="2.6"/><circle cx="805.2" cy="627" r="2.6"/><circle cx="806.1" cy="631.3" r="2.6"/><circle cx="807" cy="627.6" r="2.6"/><circle cx="807.9" cy="631.1" r="2.6"/><circle cx="808.8" cy="643.4" r="2.6"/><circle cx="809.7" cy="696.2" r="2.6"/><circle cx="810.6" cy="649.2" r="2.6"/><circle cx="811.5" cy="643" r="2.6"/><circle cx="812.4" cy="644.8" r="2.6"/><circle cx="813.3" cy="654.5" r="2.6"/><circle cx="814.2" cy="650.4" r="2.6"/><circle cx="815.1" cy="654.5" r="2.6"/><circle cx="816" cy="696.2" r="2.6"/><circle cx="816.9" cy="655.1" r="2.6"/><circle cx="817.8" cy="660.5" r="2.6"/><circle cx="818.7" cy="662.3" r="2.6"/><circle cx="819.6" cy="662.4" r="2.6"/><circle cx="820.5" cy="654.8" r="2.6"/><circle cx="821.4" cy="652" r="2.6"/><circle cx="822.3" cy="696.2" r="2.6"/><circle cx="823.2" cy="657.9" r="2.6"/><circle cx="824.1" cy="654" r="2.6"/><circle cx="825" cy="663.6" r="2.6"/><circle cx="825.9" cy="662" r="2.6"/><circle cx="826.8" cy="660.3" r="2.6"/><circle cx="827.7" cy="658.3" r="2.6"/><circle cx="828.6" cy="696.2" r="2.6"/><circle cx="829.5" cy="669.1" r="2.6"/><circle cx="830.4" cy="669.1" r="2.6"/><circle cx="831.3" cy="668.6" r="2.6"/><circle cx="832.2" cy="676" r="2.6"/><circle cx="833.1" cy="670.1" r="2.6"/><circle cx="834" cy="673.3" r="2.6"/><circle cx="834.8" cy="696.2" r="2.6"/><circle cx="835.7" cy="668" r="2.6"/><circle cx="836.6" cy="673.8" r="2.6"/><circle cx="837.5" cy="677.3" r="2.6"/><circle cx="838.4" cy="668.9" r="2.6"/><circle cx="839.3" cy="668" r="2.6"/><circle cx="840.2" cy="671.4" r="2.6"/><circle cx="841.1" cy="696.2" r="2.6"/><circle cx="842" cy="663.9" r="2.6"/><circle cx="842.9" cy="667.4" r="2.6"/><circle cx="843.8" cy="667.5" r="2.6"/><circle cx="844.7" cy="661.4" r="2.6"/><circle cx="845.6" cy="669.2" r="2.6"/><circle cx="846.5" cy="663.8" r="2.6"/><circle cx="847.4" cy="696.2" r="2.6"/><circle cx="848.3" cy="660.3" r="2.6"/><circle cx="849.2" cy="656.1" r="2.6"/><circle cx="850.1" cy="660.6" r="2.6"/><circle cx="851" cy="658.3" r="2.6"/><circle cx="851.9" cy="662.5" r="2.6"/><circle cx="852.8" cy="657.7" r="2.6"/><circle cx="853.7" cy="696.2" r="2.6"/><circle cx="854.6" cy="650.7" r="2.6"/><circle cx="855.5" cy="661.3" r="2.6"/><circle cx="856.4" cy="646.6" r="2.6"/><circle cx="857.3" cy="659.7" r="2.6"/><circle cx="858.2" cy="655.4" r="2.6"/><circle cx="859.1" cy="653.5" r="2.6"/><circle cx="860" cy="696.2" r="2.6"/><circle cx="860.9" cy="647" r="2.6"/><circle cx="861.8" cy="657.3" r="2.6"/><circle cx="862.7" cy="660.7" r="2.6"/><circle cx="863.6" cy="646" r="2.6"/><circle cx="864.5" cy="644.1" r="2.6"/><circle cx="865.4" cy="644" r="2.6"/><circle cx="866.3" cy="696.2" r="2.6"/><circle cx="867.2" cy="628.6" r="2.6"/><circle cx="868.1" cy="638.7" r="2.6"/><circle cx="869" cy="635.6" r="2.6"/><circle cx="869.9" cy="628.8" r="2.6"/><circle cx="870.8" cy="629.1" r="2.6"/><circle cx="871.7" cy="618.9" r="2.6"/><circle cx="872.6" cy="696.2" r="2.6"/><circle cx="873.5" cy="632.1" r="2.6"/><circle cx="874.4" cy="624.4" r="2.6"/><circle cx="875.3" cy="642" r="2.6"/><circle cx="876.2" cy="612.1" r="2.6"/><circle cx="877.1" cy="617.5" r="2.6"/><circle cx="878" cy="606.3" r="2.6"/><circle cx="878.9" cy="696.2" r="2.6"/><circle cx="879.8" cy="591" r="2.6"/><circle cx="880.7" cy="602.4" r="2.6"/><circle cx="881.6" cy="600.4" r="2.6"/><circle cx="882.4" cy="599.3" r="2.6"/><circle cx="883.3" cy="600.4" r="2.6"/><circle cx="884.2" cy="597.4" r="2.6"/><circle cx="885.1" cy="696.2" r="2.6"/><circle cx="886" cy="586.2" r="2.6"/><circle cx="886.9" cy="591.4" r="2.6"/><circle cx="887.8" cy="591.7" r="2.6"/><circle cx="888.7" cy="594" r="2.6"/><circle cx="889.6" cy="586.2" r="2.6"/><circle cx="890.5" cy="595" r="2.6"/><circle cx="891.4" cy="696.2" r="2.6"/><circle cx="892.3" cy="630.6" r="2.6"/><circle cx="893.2" cy="607.2" r="2.6"/><circle cx="894.1" cy="608.5" r="2.6"/><circle cx="895" cy="614.3" r="2.6"/><circle cx="895.9" cy="580.9" r="2.6"/><circle cx="896.8" cy="574.2" r="2.6"/><circle cx="897.7" cy="696.2" r="2.6"/><circle cx="898.6" cy="608.3" r="2.6"/><circle cx="899.5" cy="594.1" r="2.6"/><circle cx="900.4" cy="600.2" r="2.6"/><circle cx="901.3" cy="614.6" r="2.6"/><circle cx="902.2" cy="592.5" r="2.6"/><circle cx="810.5" cy="592.2" r="2.6"/><circle cx="820.1" cy="616.4" r="2.6"/><circle cx="816.9" cy="624.4" r="2.6"/><circle cx="813.7" cy="634.1" r="2.6"/><circle cx="823.3" cy="642.9" r="2.6"/><circle cx="829.8" cy="642.9" r="2.6"/><circle cx="820.1" cy="648.6" r="2.6"/><circle cx="830.6" cy="648.6" r="2.6"/><circle cx="836.2" cy="656.6" r="2.6"/><circle cx="841.9" cy="642.9" r="2.6"/><circle cx="844.3" cy="648.6" r="2.6"/><circle cx="851.5" cy="647.8" r="2.6"/><circle cx="848.3" cy="626" r="2.6"/><circle cx="854.8" cy="618.8" r="2.6"/><circle cx="859.6" cy="592.2" r="2.6"/><circle cx="866.8" cy="573.7" r="2.6"/><circle cx="869.2" cy="602.7" r="2.6"/><circle cx="858" cy="640.5" r="2.6"/><circle cx="862.8" cy="638.9" r="2.6"/><circle cx="870.9" cy="619.6" r="2.6"/><circle cx="880.5" cy="582.5" r="2.6"/><circle cx="882.9" cy="582.5" r="2.6"/><circle cx="879.7" cy="589.8" r="2.6"/><circle cx="888.6" cy="591.4" r="2.6"/><circle cx="876.5" cy="601.9" r="2.6"/><circle cx="445.5" cy="408.1" r="2.6"/><circle cx="445.5" cy="485.5" r="2.6"/><circle cx="443.9" cy="498.8" r="2.6"/><circle cx="452.6" cy="516.1" r="2.6"/><circle cx="437.7" cy="527" r="2.6"/><circle cx="659.7" cy="426.5" r="2.6"/><circle cx="666.3" cy="436.3" r="2.6"/><circle cx="653.1" cy="441.5" r="2.6"/><circle cx="647.7" cy="454.9" r="2.6"/><circle cx="673" cy="464.2" r="2.6"/><circle cx="678.3" cy="470.9" r="2.6"/><circle cx="686.6" cy="478.8" r="2.6"/><circle cx="641" cy="489.5" r="2.6"/><circle cx="634.2" cy="524.4" r="2.6"/><circle cx="629" cy="560.2" r="2.6"/><circle cx="656.4" cy="565.8" r="2.6"/><circle cx="650.4" cy="572" r="2.6"/><circle cx="691.8" cy="552.5" r="2.6"/><circle cx="722.7" cy="576.2" r="2.6"/><circle cx="735.7" cy="507.8" r="2.6"/><circle cx="741.3" cy="502.6" r="2.6"/><circle cx="751.3" cy="441.5" r="2.6"/><circle cx="749.2" cy="507.8" r="2.6"/><circle cx="748.4" cy="521.2" r="2.6"/><circle cx="696.9" cy="580.9" r="2.6"/><circle cx="710.6" cy="596.2" r="2.6"/><circle cx="703.3" cy="601.9" r="2.6"/><circle cx="716.2" cy="602.7" r="2.6"/><circle cx="729.1" cy="594.6" r="2.6"/><circle cx="718.6" cy="622.8" r="2.6"/><circle cx="738" cy="606.7" r="2.6"/><circle cx="680.5" cy="582.5" r="2.6"/><circle cx="662.8" cy="574.5" r="2.6"/><circle cx="621.7" cy="593.8" r="2.6"/><circle cx="615.3" cy="639.7" r="2.6"/><circle cx="654" cy="637.3" r="2.6"/><circle cx="679.7" cy="655" r="2.6"/><circle cx="761.3" cy="233.9" r="2.6"/><circle cx="755.8" cy="302.6" r="2.6"/><circle cx="791.3" cy="340.3" r="2.6"/><circle cx="755.2" cy="342" r="2.6"/><circle cx="763.9" cy="383.9" r="2.6"/><circle cx="747.7" cy="395.2" r="2.6"/><circle cx="771.9" cy="395.2" r="2.6"/><circle cx="798.7" cy="459.7" r="2.6"/><circle cx="767.7" cy="117.3" r="2.6"/><circle cx="785.6" cy="111" r="2.6"/><circle cx="754.5" cy="156" r="2.6"/><circle cx="768" cy="205" r="2.6"/><circle cx="770" cy="170" r="2.6"/><circle cx="766" cy="190" r="2.6"/><circle cx="893.7" cy="405.4" r="2.6"/><circle cx="885.4" cy="441.3" r="2.6"/><circle cx="898.4" cy="461.5" r="2.6"/><circle cx="880.4" cy="474.8" r="2.6"/><circle cx="873.5" cy="518.7" r="2.6"/><circle cx="888.7" cy="592.7" r="2.6"/><circle cx="848" cy="600" r="2.6"/><circle cx="855" cy="620" r="2.6"/><circle cx="865" cy="630" r="2.6"/><circle cx="880" cy="600" r="2.6"/><circle cx="232.8" cy="651" r="2.6"/><circle cx="232.8" cy="654" r="2.6"/><circle cx="244.9" cy="658.7" r="2.6"/><circle cx="231.6" cy="681.7" r="2.6"/><circle cx="298.4" cy="637.4" r="2.6"/><circle cx="289.2" cy="652.4" r="2.6"/><circle cx="211.5" cy="665.6" r="2.6"/><circle cx="216.7" cy="678.8" r="2.6"/><circle cx="237.5" cy="650" r="2.6"/><circle cx="354.2" cy="642.7" r="2.6"/><circle cx="381.5" cy="634.7" r="2.6"/><circle cx="389.6" cy="618.9" r="2.6"/><circle cx="396" cy="602" r="2.6"/><circle cx="410.5" cy="565" r="2.6"/><circle cx="423.1" cy="557.7" r="2.6"/><circle cx="426.6" cy="620.5" r="2.6"/><circle cx="425.3" cy="651.1" r="2.6"/><circle cx="400" cy="650.8" r="2.6"/><circle cx="403.3" cy="640.6" r="2.6"/><circle cx="468.2" cy="588.2" r="2.6"/><circle cx="498.8" cy="622.4" r="2.6"/><circle cx="522.9" cy="635.7" r="2.6"/><circle cx="518.1" cy="638.9" r="2.6"/><circle cx="465.8" cy="647" r="2.6"/><circle cx="457.7" cy="621.2" r="2.6"/><circle cx="497" cy="560" r="2.6"/><circle cx="487" cy="584" r="2.6"/><circle cx="310" cy="635" r="2.6"/><circle cx="392" cy="640" r="2.6"/><circle cx="405" cy="568" r="2.6"/>
</g>
<path d="M125.4 696.3 L173.7 696.3 L179.5 693.7 L190 685.8 L198.8 682.9 L205.7 677.1 L212.6 670.2 L217.2 673.1 L221.8 669.6 L229.9 670.2 L232.2 665.6 L236.2 662.1 L239.1 666.7 L244.8 672.5 L249.4 679.4 L252.9 681.1 L260.9 680 L267.8 679.4 L271.3 678.3 L274.7 672.5 L279.4 667.9 L286.3 664.4 L290.9 664.4 L295.5 666.2 L298.3 662.1 L302.4 664.4 L305.8 668.5 L310.4 670.2 L318.5 666.7 L321.6 665.6 L328.8 666.4 L335.2 667.2 L344.9 672.9 L351.3 672 L357.8 664 L367.4 665.6 L375.5 657.6 L380.9 652.7 L385.8 654.3 L392.2 630.2 L396.2 620.5 L401.9 631 L405.9 612.5 L409.1 583.5 L412.3 586.7 L416.4 593.9 L422 577.8 L426 590.7 L430.1 577 L434.1 559.3 L438.9 548.1 L442.1 549.7 L444 516.6 L446.7 522.1 L449.5 555.2 L452.3 553.4 L454.1 560.8 L455.5 568 L457.9 598.6 L464.4 594.6 L470 616.4 L473.2 634.1 L481.3 647 L487.7 655.8 L494.2 656.6 L499 653.4 L503.8 654.2 L507 651.8 L511.9 654.7 L515.8 651.9 L519.9 648.6 L524.8 651.8 L531.2 661.4 L539.2 667.9 L547.3 677.6 L553.7 682.4 L557.8 684 L562.6 685.4 L567.7 688.6 L574 690.5 L582.9 690.5 L586.7 688.6 L594.3 689.2 L597.8 688 L604.4 686.1 L606.9 684.8 L614.5 679.2 L620.1 671.1 L624.2 656.6 L629 645.3 L633.8 638.9 L638.6 627.6 L641.9 618.9 L646.7 609.2 L651.5 599.5 L655.6 601.1 L660.4 591.5 L665.2 593.9 L669.2 601.1 L674.1 612.4 L678.9 618.9 L682.1 620.5 L683.7 626.9 L684.1 652.7 L685.3 636.6 L687.8 626.9 L690.2 615.6 L691.8 636.6 L696.6 649.5 L700.9 657.5 L705.7 659.9 L710 656.6 L714.8 656.6 L720.5 647 L726.1 655 L730.9 642.1 L733.4 629.2 L737.4 622.8 L746.5 600 L748.5 580 L750.5 560 L755.5 470 L758.5 410 L760.5 370 L762.5 320 L764.3 300 L764.5 275 L766.5 230 L768 190 L769 160 L769.8 160 L770.5 190 L771 230 L771.5 275 L772.5 300 L775.5 312 L777 345 L778 411 L780.3 392 L782.5 420 L785 450 L786 470 L786.5 500 L790.5 543 L794.5 570 L798.5 604 L803 629 L808 647 L812.5 656 L817 666 L822 663 L826 668 L831 674 L836 676.5 L841 674 L846 667 L851 665 L856 663 L861 658 L866 652 L870 640 L874.5 628 L878 618 L881 608 L884 604 L889 606 L892 612 L895 614 L899 615 L903 616.3" fill="none" stroke="#2ca02c" stroke-width="2.8" stroke-linejoin="round"/>
<path d="M762.4 311 L763.6 274 L766.6 215 L768.5 158 L769.7 158 L771.4 215 L773.6 276 L774.7 302 L769.8 302 L769.2 280 L766.8 280 L766.6 311 Z" fill="#2ca02c"/>
<path d="M769.1 175 L768.9 280" stroke="#a8dca8" stroke-width="1"/>
<path d="M125.4 696.3 L173.7 696.3 L180.7 693.7 L191.2 685.8 L200 682.9 L206.9 677.1 L213.8 670.2 L218.4 673.1 L223 669.6 L231.1 670.2 L233.4 665.6 L237.4 662.1 L240.3 666.7 L246 672.5 L250.6 679.4 L254.1 681.1 L262.1 680 L269 679.4 L272.5 678.3 L275.9 672.5 L280.6 667.9 L287.5 664.4 L292.1 664.4 L296.7 666.2 L299.5 662.1 L303.6 664.4 L307 668.5 L311.6 670.2 L319.7 666.7 L322.8 665.6 L330 666.4 L336.4 667.2 L346.1 672.9 L352.5 672 L359 664 L368.6 665.6 L376.7 657.6 L383.1 652.7 L388 654.3 L394.4 630.2 L398.4 620.5 L404.1 631 L408.1 612.5 L411.3 583.5 L414.5 586.7 L418.6 593.9 L424.2 577.8 L428.2 590.7 L432.3 577 L436.3 559.3 L441.1 548.1 L444.3 549.7 L446.2 516.6 L448.9 522.1 L451.7 555.2 L454.5 553.4 L456.3 560.8 L457.7 568 L460.1 598.6 L466.6 594.6 L472.2 616.4 L475.4 634.1 L483.5 647 L489.9 655.8 L496.4 656.6 L501.2 653.4 L506 654.2 L509.2 651.8 L514.1 654.7 L518 651.9 L522.1 648.6 L527 651.8 L533.4 661.4 L541.4 667.9 L549.5 677.6 L555.9 682.4 L560 684 L564.8 685.4 L569.9 688.6 L576.2 690.5 L585.1 690.5 L588.9 688.6 L596.5 689.2 L600 688 L606.6 686.1 L609.1 684.8 L614.5 679.2 L620.1 671.1 L624.2 656.6 L629 645.3 L633.8 638.9 L638.6 627.6 L641.9 616.4 L646.7 606.7 L651.5 597 L655.6 598.6 L660.4 589 L665.2 591.4 L669.2 598.6 L674.1 609.9 L678.9 616.4 L682.1 618 L683.7 624.4 L684.1 650.2 L685.3 634.1 L687.8 624.4 L690.2 613.1 L691.8 634.1 L696.6 647 L703.1 655 L707.9 657.4 L712.2 656.6 L717 656.6 L722.7 647 L728.3 655 L733.1 642.1 L735.6 629.2 L739.6 622.8 L745.2 616.4 L747.6 592.2 L750 560 L754.5 470 L756.1 418 L757.9 370 L759.8 280 L760.5 276 L762.6 270 L765.7 205 L768.3 147 L769.5 147 L772.4 205 L774 270 L775.5 276 L776.5 280 L778.5 330 L780 346 L782 375 L783.5 390 L784.8 427 L787 470 L787.9 501 L792.1 543 L796.2 570 L800.3 603.4 L804.8 627.6 L809.7 645.3 L814.5 653.4 L818.5 664.7 L823.3 659 L825.8 664.7 L830.6 671.1 L834.6 672.7 L836.2 671.1 L841.1 671.1 L846.7 663.1 L851.5 662.3 L856.4 660.6 L861.2 655 L866 650.2 L870.9 635.7 L875.7 624.4 L878.9 616.4 L882.1 603.5 L885.3 598.6 L890.2 601.1 L891.8 624.4 L892.1 638.9 L893.4 614.8 L895 613.1 L897.4 578.5 L898.6 608.3 L903.1 611.5" fill="none" stroke="#000" stroke-width="3.1" stroke-linejoin="round"/>
<path d="M902.8 617.7 L904.3 618.8 L905.8 619.9 L907.3 620.9 L908.8 621.9 L910.3 622.9 L911.8 623.8 L913.3 624.8 L914.8 625.6 L916.3 626.5 L917.8 627.3 L919.3 628.1 L920.8 628.8 L922.3 629.6 L923.8 630.3 L925.3 630.9 L926.8 631.6 L928.3 632.3 L929.8 632.9 L931.3 633.5 L932.8 634.1 L934.3 634.7 L935.8 635.2 L937.3 635.8 L938.8 636.3 L940.3 636.8 L941.8 637.3 L943.3 637.9 L944.8 638.3 L946.3 638.8 L947.8 639.3 L949.3 639.8 L950.8 640.3 L952.3 640.7 L953.8 641.2 L955.3 641.6 L956.8 642.1 L958.3 642.5 L959.8 642.9 L961.3 643.4 L962.8 643.8 L964.3 644.3 L965.8 644.7 L967.3 645.1 L968.8 645.6 L970.3 646 L971.8 646.5 L973.3 646.9 L974.8 647.4 L976.3 647.9 L977.8 648.3 L979.3 648.8 L980.8 649.3 L982.3 649.7 L983.8 650.2 L985.3 650.7 L986.8 651.2 L988.3 651.7 L989.8 652.2 L991.3 652.7 L992.8 653.1 L994.3 653.6 L995.8 654.1 L997.3 654.6 L998.8 655.1 L1000.3 655.6 L1001.8 656.1 L1003.3 656.6 L1004.8 657.1 L1006.3 657.5 L1007.8 658 L1009.3 658.5 L1010.8 659 L1012.3 659.4 L1013.8 659.9 L1015.3 660.4 L1016.8 660.8 L1018.3 661.3 L1019.8 661.7 L1021.3 662.1 L1022.8 662.6 L1024.3 663 L1025.8 663.4 L1027.3 663.8 L1028.8 664.2 L1030.3 664.6 L1031.8 665 L1033.3 665.4 L1034.8 665.8 L1036.3 666.1 L1037.8 666.5 L1039.3 666.8 L1040.8 667.1 L1042.3 667.5 L1043.8 667.8 L1045.3 668.1 L1046.8 668.4 L1048.3 668.6 L1049.8 668.9 L1051.3 669.1 L1052.8 669.4 L1054.3 669.6 L1055.8 669.8 L1057.3 670 L1058.8 670.2 L1060.3 670.4 L1061.8 670.5 L1063.3 670.6 L1064.8 670.8 L1065 670.8" fill="none" stroke="#1f77b4" stroke-width="3.1" stroke-linejoin="round"/>
<path d="M902.8 616 L904.3 617.8 L905.8 619.5 L907.3 621 L908.8 622.3 L910.3 623.4 L911.8 624.3 L913.3 625.1 L914.8 625.7 L916.3 626.1 L917.8 626.3 L919.3 626.4 L920.8 626.4 L922.3 626.1 L923.8 625.8 L925.3 625.3 L926.8 624.7 L928.3 623.9 L929.8 623 L931.3 622 L932.8 620.8 L934.3 619.6 L935.8 618.2 L937.3 616.7 L938.8 615.2 L940.3 613.5 L941.8 611.8 L943.3 610.1 L944.8 608.3 L946.3 606.5 L947.8 604.8 L949.3 603.1 L950.8 601.5 L952.3 599.9 L953.8 598.5 L955.3 597.1 L956.8 595.9 L958.3 594.9 L959.8 594 L961.3 593.3 L962.8 592.7 L964.3 592.3 L965.8 592.1 L967.3 592 L968.8 592.2 L970.3 592.5 L971.8 593 L973.3 593.6 L974.8 594.5 L976.3 595.5 L977.8 596.6 L979.3 597.9 L980.8 599.3 L982.3 600.8 L983.8 602.4 L985.3 604.1 L986.8 605.8 L988.3 607.6 L989.8 609.4 L991.3 611.3 L992.8 613.1 L994.3 614.9 L995.8 616.7 L997.3 618.4 L998.8 620.2 L1000.3 621.9 L1001.8 623.5 L1003.3 625.1 L1004.8 626.6 L1006.3 628.2 L1007.8 629.6 L1009.3 631 L1010.8 632.4 L1012.3 633.8 L1013.8 635.1 L1015.3 636.3 L1016.8 637.6 L1018.3 638.8 L1019.8 639.9 L1021.3 641.1 L1022.8 642.2 L1024.3 643.3 L1025.8 644.4 L1027.3 645.4 L1028.8 646.5 L1030.3 647.4 L1031.8 648.4 L1033.3 649.4 L1034.8 650.3 L1036.3 651.2 L1037.8 652 L1039.3 652.9 L1040.8 653.7 L1042.3 654.5 L1043.8 655.2 L1045.3 655.9 L1046.8 656.6 L1048.3 657.3 L1049.8 657.9 L1051.3 658.5 L1052.8 659 L1054.3 659.5 L1055.8 660 L1057.3 660.5 L1058.8 660.9 L1060.3 661.3 L1061.8 661.7 L1063.3 662 L1064.8 662.2 L1065 662.3" fill="none" stroke="#ff7f0e" stroke-width="3.1" stroke-linejoin="round"/>
<path d="M902.8 616.3 L904.3 617.8 L905.8 619.2 L907.3 620.6 L908.8 621.9 L910.3 623 L911.8 624.1 L913.3 624.9 L914.8 625.6 L916.3 626 L917.8 626.2 L919.3 626.1 L920.8 625.8 L922.3 625.3 L923.8 624.6 L925.3 623.9 L926.8 623.1 L928.3 622.4 L929.8 621.8 L931.3 621.4 L932.8 621.1 L934.3 621.2 L935.8 621.6 L937.3 622.4 L938.8 623.5 L940.3 625.1 L941.8 627 L943.3 629 L944.8 631.1 L946.3 633.2 L947.8 635.3 L949.3 637.3 L950.8 639.4 L952.3 641.4 L953.8 643.3 L955.3 645.2 L956.8 647.1 L958.3 648.9 L959.8 650.7 L961.3 652.4 L962.8 654.1 L964.3 655.7 L965.8 657.2 L967.3 658.7 L968.8 660.2 L970.3 661.6 L971.8 662.9 L973.3 664.2 L974.8 665.5 L976.3 666.7 L977.8 667.9 L979.3 669 L980.8 670.1 L982.3 671.1 L983.8 672.1 L985.3 673.1 L986.8 674 L988.3 674.9 L989.8 675.8 L991.3 676.6 L992.8 677.4 L994.3 678.1 L995.8 678.8 L997.3 679.5 L998.8 680.1 L1000.3 680.8 L1001.8 681.4 L1003.3 681.9 L1004.8 682.5 L1006.3 683 L1007.8 683.4 L1009.3 683.9 L1010.8 684.3 L1012.3 684.8 L1013.8 685.2 L1015.3 685.5 L1016.8 685.9 L1018.3 686.2 L1019.8 686.5 L1021.3 686.8 L1022.8 687.1 L1024.3 687.4 L1025.8 687.7 L1027.3 687.9 L1028.8 688.2 L1030.3 688.4 L1031.8 688.6 L1033.3 688.8 L1034.8 689 L1036.3 689.2 L1037.8 689.4 L1039.3 689.6 L1040.8 689.8 L1042.3 689.9 L1043.8 690.1 L1045.3 690.3 L1046.8 690.5 L1048.3 690.7 L1049.8 690.8 L1051.3 691 L1052.8 691.2 L1054.3 691.4 L1055.8 691.6 L1057.3 691.8 L1058.8 692 L1060.3 692.2 L1061.8 692.5 L1063.3 692.7 L1064.8 693 L1065 693" fill="none" stroke="#2ca02c" stroke-width="3.1" stroke-linejoin="round"/>
<line x1="903.1" y1="54.4" x2="903.1" y2="780.6" stroke="#111" stroke-width="1.1" stroke-dasharray="3.2 1.8"/>
</g>
<rect x="75.3" y="54.4" width="1036.3" height="726.2" fill="none" stroke="#000" stroke-width="1.2"/>
<line x1="75.3" y1="696.5" x2="68.8" y2="696.5" stroke="#000" stroke-width="1.2"/>
<text x="61.7" y="704.5" font-size="17.9" text-anchor="end" class="t">0.0</text>
<line x1="75.3" y1="550.5" x2="68.8" y2="550.5" stroke="#000" stroke-width="1.2"/>
<text x="61.7" y="558.7" font-size="17.9" text-anchor="end" class="t">5.0K</text>
<line x1="75.3" y1="404.5" x2="68.8" y2="404.5" stroke="#000" stroke-width="1.2"/>
<text x="61.7" y="412.9" font-size="17.9" text-anchor="end" class="t">10.0K</text>
<line x1="75.3" y1="258.5" x2="68.8" y2="258.5" stroke="#000" stroke-width="1.2"/>
<text x="61.7" y="267.1" font-size="17.9" text-anchor="end" class="t">15.0K</text>
<line x1="75.3" y1="113.5" x2="68.8" y2="113.5" stroke="#000" stroke-width="1.2"/>
<text x="61.7" y="121.3" font-size="17.9" text-anchor="end" class="t">20.0K</text>
<line x1="102.5" y1="780.6" x2="102.5" y2="787.4" stroke="#000" stroke-width="1.3"/>
<text class="t" font-size="18.3" text-anchor="end" transform="translate(99.1 808.2) rotate(-30)">2020-01</text>
<line x1="210.5" y1="780.6" x2="210.5" y2="787.4" stroke="#000" stroke-width="1.3"/>
<text class="t" font-size="18.3" text-anchor="end" transform="translate(207.8 808.2) rotate(-30)">2020-05</text>
<line x1="321.5" y1="780.6" x2="321.5" y2="787.4" stroke="#000" stroke-width="1.3"/>
<text class="t" font-size="18.3" text-anchor="end" transform="translate(318.2 808.2) rotate(-30)">2020-09</text>
<line x1="430.5" y1="780.6" x2="430.5" y2="787.4" stroke="#000" stroke-width="1.3"/>
<text class="t" font-size="18.3" text-anchor="end" transform="translate(427.8 808.2) rotate(-30)">2021-01</text>
<line x1="538.5" y1="780.6" x2="538.5" y2="787.4" stroke="#000" stroke-width="1.3"/>
<text class="t" font-size="18.3" text-anchor="end" transform="translate(535.6 808.2) rotate(-30)">2021-05</text>
<line x1="648.5" y1="780.6" x2="648.5" y2="787.4" stroke="#000" stroke-width="1.3"/>
<text class="t" font-size="18.3" text-anchor="end" transform="translate(646 808.2) rotate(-30)">2021-09</text>
<line x1="758.5" y1="780.6" x2="758.5" y2="787.4" stroke="#000" stroke-width="1.3"/>
<text class="t" font-size="18.3" text-anchor="end" transform="translate(755.6 808.2) rotate(-30)">2022-01</text>
<line x1="866.5" y1="780.6" x2="866.5" y2="787.4" stroke="#000" stroke-width="1.3"/>
<text class="t" font-size="18.3" text-anchor="end" transform="translate(863.4 808.2) rotate(-30)">2022-05</text>
<line x1="976.5" y1="780.6" x2="976.5" y2="787.4" stroke="#000" stroke-width="1.3"/>
<text class="t" font-size="18.3" text-anchor="end" transform="translate(973.8 808.2) rotate(-30)">2022-09</text>
<line x1="1086.5" y1="780.6" x2="1086.5" y2="787.4" stroke="#000" stroke-width="1.3"/>
<text class="t" font-size="18.3" text-anchor="end" transform="translate(1083.4 808.2) rotate(-30)">2023-01</text>
<rect x="90.3" y="68.6" width="751.5" height="135.5" rx="3.5" ry="3.5" fill="#fff" fill-opacity="0.8" stroke="#ccc" stroke-opacity="0.8" stroke-width="1.2"/>
<line x1="100" y1="93.1" x2="162.8" y2="93.1" stroke="#1f77b4" stroke-width="3.2"/>
<text transform="translate(184.3 102.9) scale(1 0.955)" font-size="29.72">Adaptive</text>
<line x1="100" y1="134.1" x2="162.8" y2="134.1" stroke="#ff7f0e" stroke-width="3.2"/>
<text transform="translate(184.3 143.9) scale(1 0.955)" font-size="29.72">Adaptive-VariantBA4_BA5</text>
<line x1="100" y1="177.4" x2="162.8" y2="177.4" stroke="#2ca02c" stroke-width="3.2"/>
<text transform="translate(184.3 188.3) scale(1 0.955)" font-size="29.72">Adaptive-VariantBA4_BA5-IncreasedControl</text>
<text transform="translate(593.4 44.1) scale(1 0.955)" font-size="29.9" text-anchor="middle">Virginia Daily Confirmed - Comparison</text>
</svg></body></html>
